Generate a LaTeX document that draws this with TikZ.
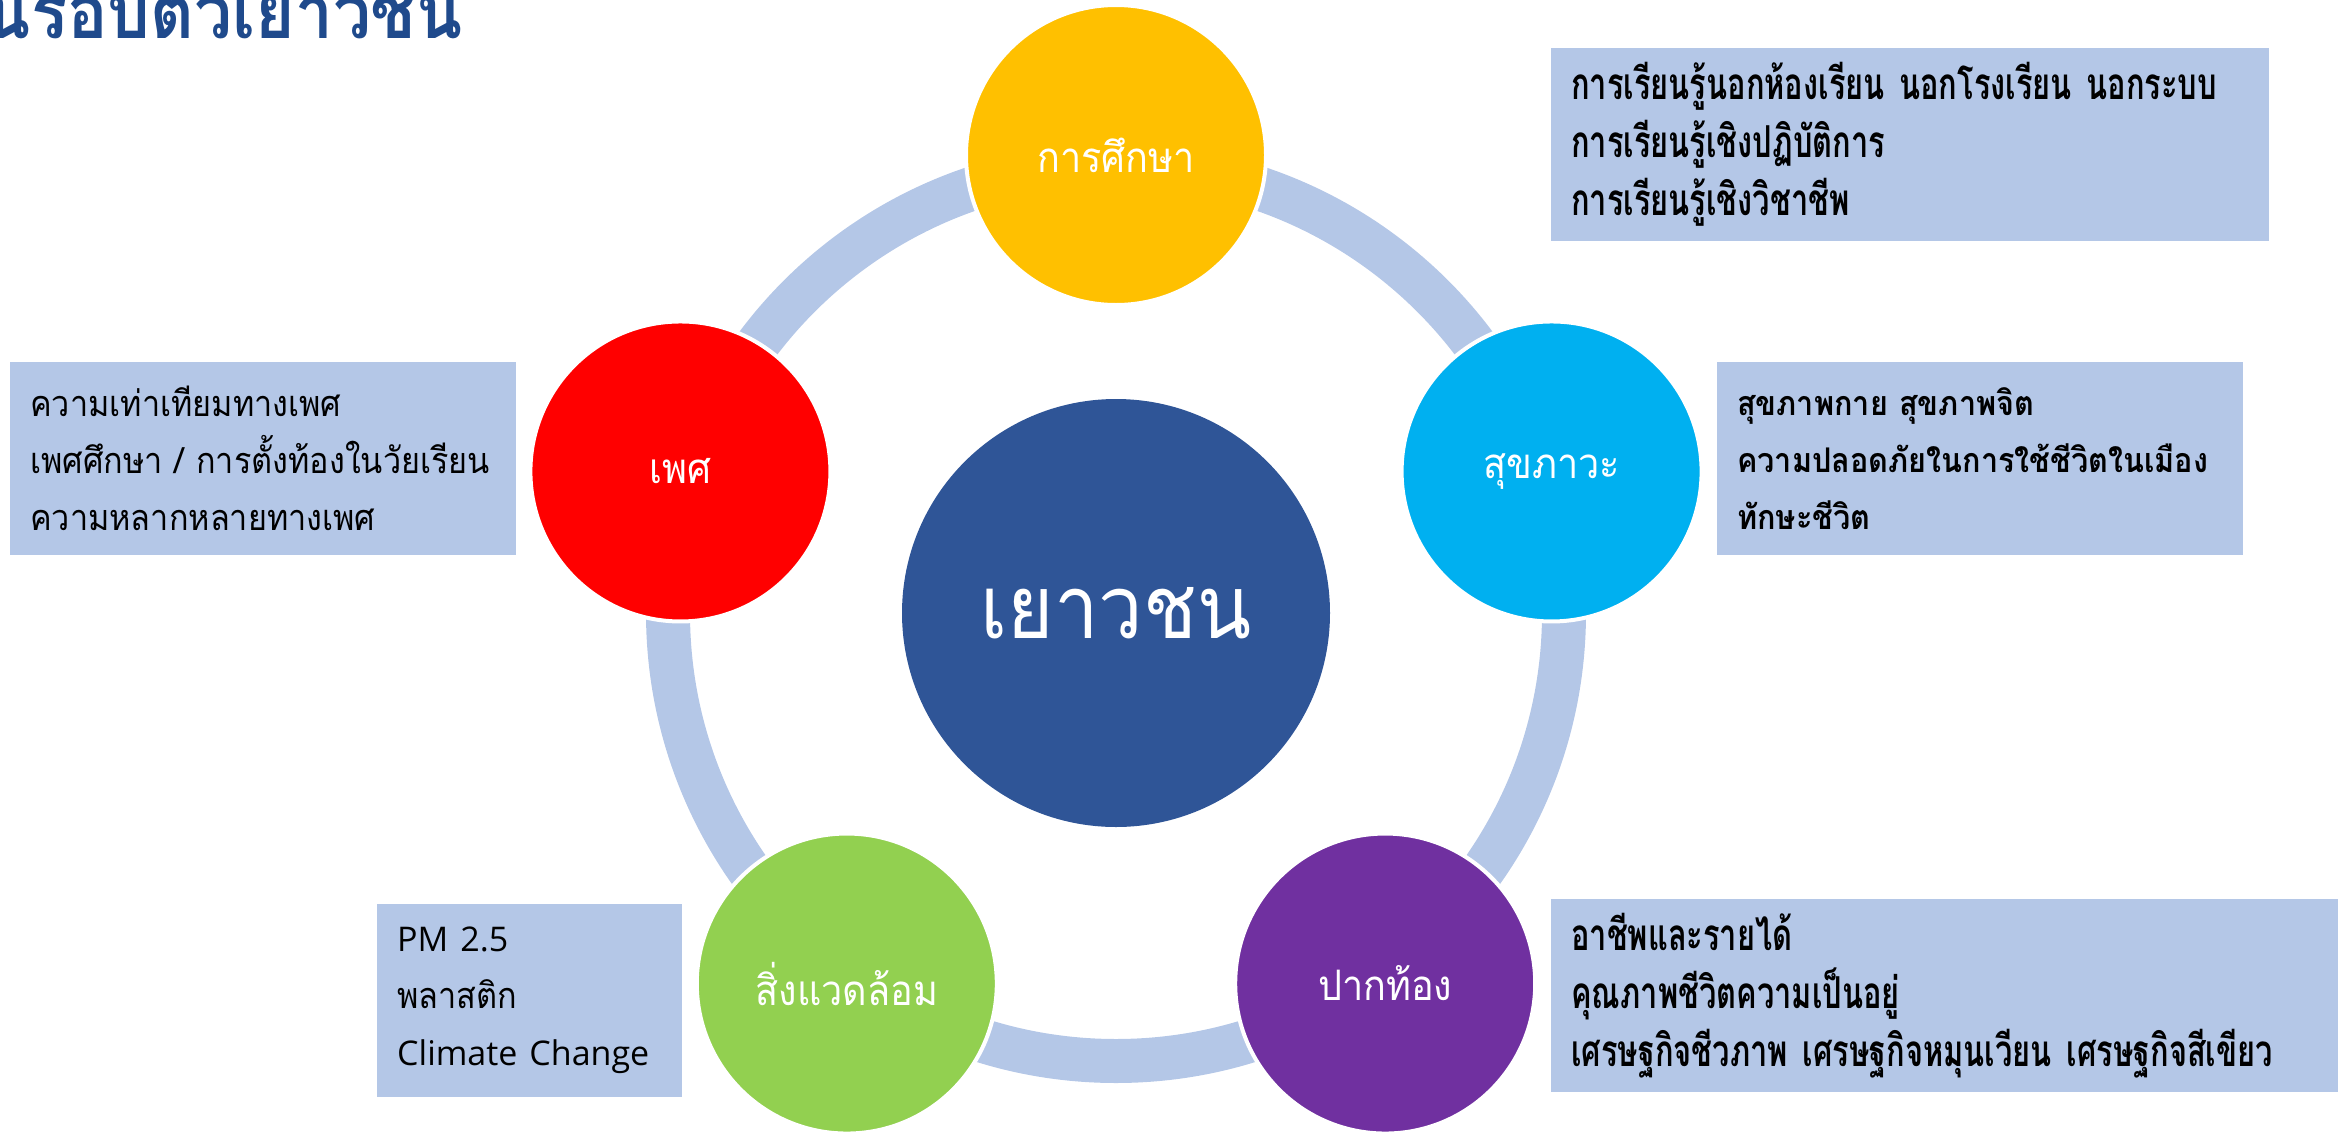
\documentclass[tikz,border=0pt]{standalone}
\usepackage{fontspec}
\usepackage{tikz}
\newfontfamily\thaifont[Script=Thai,FakeStretch=0.9]{Loma}
\newfontfamily\thainarrow[Script=Thai,FakeStretch=0.7]{Loma}
\newfontfamily\latinfont{Open Sans}
\definecolor{ringblue}{HTML}{B4C7E7}
\definecolor{coreblue}{HTML}{2F5597}
\definecolor{titleblue}{HTML}{1F4A8C}
\definecolor{eduyellow}{HTML}{FFC000}
\definecolor{healthcyan}{HTML}{00B0F0}
\definecolor{econpurple}{HTML}{7030A0}
\definecolor{envgreen}{HTML}{92D050}
\definecolor{sexred}{HTML}{FF0000}

\begin{document}
\begin{tikzpicture}[
            x=1pt,y=-1pt,
            topic/.style={
            circle,
            draw=white,
            line width=4pt,
            minimum size=300pt,
            inner sep=0pt,
            text=white,
            font=\thaifont\fontsize{42}{46}\selectfont
            },
            infobox/.style={
            fill=ringblue,
            anchor=north west,
            minimum height=193pt,
            inner xsep=20pt,
            align=left,
            font=\thaifont\fontsize{36}{57}\selectfont
            }
            ]
            \useasboundingbox (0,0) rectangle (2346,1133);
            % title, cut by the page edge
            \begin{scope}
            \clip (0,0) rectangle (2346,1133);
            \node[anchor=base east,inner sep=0pt,text=titleblue,font=\thaifont\bfseries\fontsize{75}{80}\selectfont] (title) at (463,38) {ประเด็นรอบตัวเยาวชน};
            \end{scope}
            \node[circle,fill=coreblue,minimum size=428pt,inner sep=0pt,text=white,font=\thaifont\fontsize{88}{92}\selectfont] (core) at (1116,613) {เยาวชน};
            \draw[ringblue,line width=44pt] (core.center) circle[radius=448pt];
            \foreach \Name/\Angle/\Colour/\Text in {edu/-90/eduyellow/การศึกษา,health/-18/healthcyan/สุขภาวะ,econ/54/econpurple/ปากท้อง,env/126/envgreen/สิ่งแวดล้อม,sex/198/sexred/เพศ}
            \node[topic,fill=\Colour] (\Name) at ([shift={(\Angle:458)}]core.center) {\Text};
            % boxes
            \node[infobox,text width=678pt,font=\thainarrow\bfseries\fontsize{44}{58}\selectfont] (edubox) at (1551,48) {การเรียนรู้นอกห้องเรียน นอกโรงเรียน นอกระบบ\\การเรียนรู้เชิงปฏิบัติการ\\การเรียนรู้เชิงวิชาชีพ};
            \node[infobox,text width=466pt] (sexbox) at (10,362) {ความเท่าเทียมทางเพศ\\เพศศึกษา / การตั้งท้องในวัยเรียน\\ความหลากหลายทางเพศ};
            \node[infobox,text width=486pt,font=\thaifont\bfseries\fontsize{34}{57}\selectfont] (healthbox) at (1717,362) {สุขภาพกาย สุขภาพจิต\\ความปลอดภัยในการใช้ชีวิตในเมือง\\ทักษะชีวิต};
            \node[infobox,text width=265pt] (envbox) at (377,904) {{\latinfont\fontsize{34}{57}\selectfont PM 2.5}\\พลาสติก\\{\latinfont\fontsize{34}{57}\selectfont Climate Change}};
            \node[infobox,text width=747pt,font=\thainarrow\bfseries\fontsize{44}{58}\selectfont] (econbox) at (1551,899) {อาชีพและรายได้\\คุณภาพชีวิตความเป็นอยู่\\เศรษฐกิจชีวภาพ เศรษฐกิจหมุนเวียน เศรษฐกิจสีเขียว};
        \end{tikzpicture}
\end{document}
